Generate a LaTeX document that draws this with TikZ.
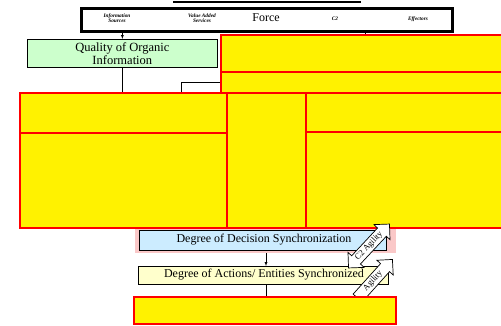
\documentclass[tikz,border=0pt]{standalone}
\usepackage{fontspec}
\setmainfont{Liberation Serif}
\usetikzlibrary{shapes.arrows,backgrounds}

\definecolor{organic}{RGB}{204,255,204}
\definecolor{decision}{RGB}{204,236,255}
\definecolor{actions}{RGB}{255,255,204}
\definecolor{glow}{RGB}{250,200,200}

\tikzset{
  redbox/.style={draw=red, line width=2pt, fill=yellow, anchor=north west, inner sep=0pt},
  plainbox/.style={draw=black, line width=0.7pt, anchor=north west, inner sep=0pt},
  tinylabel/.style={font=\fontsize{5.3}{5.6}\selectfont\bfseries\itshape, align=center, inner sep=0pt},
  blockarrow/.style={draw=black, fill=white, line width=0.7pt, inner sep=1.8pt,
    font=\fontsize{8.5}{9}\selectfont, minimum width=11pt}
}

\begin{document}
\begin{tikzpicture}[x=1pt, y=-1pt, >=latex]
	\useasboundingbox (0,0) rectangle (501,325);
	\clip (0,0) rectangle (501,325);
	
	\coordinate (elbow) at (181,82);
	\coordinate (ftick) at (365,30);
	\coordinate (sync) at (266,0);
	
	\draw[line width=2pt] (173,2) -- (361,2);
	\draw[line width=1.5pt] (133,324) -- (397,324);
	
	% force bar
	\node[plainbox, line width=3pt, minimum width=371pt, minimum height=23pt] (force) at (80,7) {};
	\node[tinylabel] (infosrc) at (117,18) {Information\\Sources};
	\node[tinylabel] (valadd) at (202,18) {Value Added\\Services};
	\node[font=\fontsize{12}{13}\selectfont] (forcelbl) at (266,18) {Force};
	\node[tinylabel] (ctwo) at (335,19) {C2};
	\node[tinylabel] (effect) at (418,19) {Effectors};
	
	\node[plainbox, fill=organic, minimum width=190pt, minimum height=28pt] (quality) at (27,39) {};
	\node[font=\fontsize{12.5}{13}\selectfont, align=center] (qualitylbl) at (quality.center) {Quality of Organic\\Information};
	
	% yellow blocks
	\node[redbox, minimum width=285pt, minimum height=37pt] (toprA) at (220,34) {};
	\node[redbox, minimum width=285pt, minimum height=21pt] (toprB) at (220,71) {};
	\node[redbox, minimum width=207pt, minimum height=40pt] (leftA) at (19,92) {};
	\node[redbox, minimum width=207pt, minimum height=95pt] (leftB) at (19,132) {};
	\node[redbox, minimum width=79pt, minimum height=135pt] (mid) at (226,92) {};
	\node[redbox, minimum width=200pt, minimum height=39pt] (rightA) at (305,92) {};
	\node[redbox, minimum width=200pt, minimum height=96pt] (rightB) at (305,131) {};
	
	% synchronization
	\node[anchor=north west, fill=glow, minimum width=261pt, minimum height=24pt, inner sep=0pt] (glowbox) at (135,229) {};
	\node[plainbox, fill=decision, minimum width=247pt, minimum height=20pt] (decision) at (139,230) {};
	\node[font=\fontsize{12}{13}\selectfont] (decisionlbl) at (264,240) {Degree of Decision Synchronization};
	\node[plainbox, fill=actions, minimum width=250pt, minimum height=18pt] (actionsbox) at (138,266) {};
	\node[font=\fontsize{12}{13}\selectfont] (actionslbl) at (264,275) {Degree of Actions/ Entities Synchronized};
	
	\node[blockarrow, double arrow, rotate=47, minimum height=60pt, double arrow head extend=5pt] (ctwoagility) at (369,246) {C2 Agility};
	\node[blockarrow, single arrow, rotate=48, minimum height=52pt, single arrow head extend=5pt] (agility) at (373,281) {Agility};
	
	\node[redbox, minimum width=262pt, minimum height=27pt] (effects) at (133,296) {};
	
	\begin{pgfonlayer}{background}
		\draw[->] (quality.north |- force.south) -- (quality.north);
		\draw (quality.south) -- (quality.south |- leftA.north);
		\draw (elbow |- leftA.north) -- (elbow) -- (elbow -| toprB.west);
		\draw (ftick) -- (ftick |- toprA.north);
		\draw[->] (sync |- decision.south) -- (sync |- actionsbox.north);
		\draw (sync |- actionsbox.south) -- (sync |- effects.north);
	\end{pgfonlayer}
\end{tikzpicture}
\end{document}
